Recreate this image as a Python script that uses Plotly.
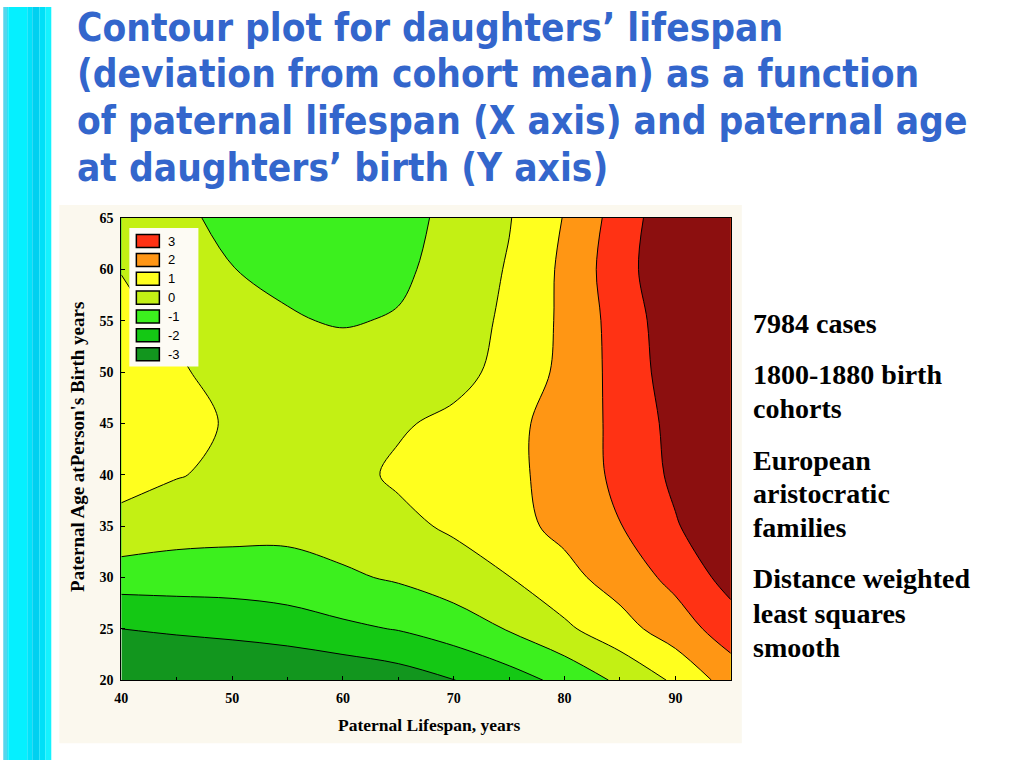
import plotly.graph_objects as go

# ---------------- data ----------------
paternal_lifespan = [40, 45, 50, 55, 60, 65, 70, 75, 80, 85, 90, 95]          # x grid
paternal_age = [20, 25, 30, 35, 40, 45, 50, 55, 60, 65]                      # y grid
# daughters' lifespan deviation (rows = paternal_age, cols = paternal_lifespan)
dev_age20 = [-4.4, -4.25, -4.1, -4.0, -3.8, -3.5, -3.02, -2.42, -1.73, -0.81, 0.16, 1.45]
dev_age25 = [-3.0, -2.83, -2.7, -2.5, -2.2, -1.95, -1.5, -0.93, -0.18, 0.62, 1.52, 2.5]
dev_age30 = [-1.51, -1.52, -1.52, -1.42, -1.15, -0.88, -0.5, -0.02, 0.7, 1.44, 2.27, 3.38]
dev_age35 = [-0.25, -0.56, -0.65, -0.72, -0.55, -0.25, 0.15, 0.68, 1.26, 1.97, 2.92, 3.8]
dev_age40 = [0.3, 0.05, -0.2, -0.4, -0.3, 0.15, 0.45, 0.75, 1.41, 2.22, 3.2, 4.1]
dev_age45 = [0.45, 0.3, -0.1, -0.4, -0.35, -0.1, 0.2, 0.75, 1.39, 2.27, 3.3, 4.2]
dev_age50 = [0.4, 0.14, -0.4, -0.55, -0.5, -0.45, -0.3, 0.3, 1.25, 2.35, 3.5, 4.4]
dev_age55 = [0.25, -0.2, -0.7, -0.92, -1.08, -0.92, -0.45, 0.18, 1.2, 2.42, 3.6, 4.5]
dev_age60 = [-0.03, -0.55, -0.98, -1.2, -1.35, -1.2, -0.6, 0.08, 1.2, 2.6, 3.8, 4.7]
dev_age65 = [-0.25, -0.75, -1.3, -1.6, -1.7, -1.45, -0.65, -0.05, 1.05, 2.45, 3.75, 4.7]

contour_start, contour_end, contour_step = -3, 3, 1
# band colours from lowest (< -3) to highest (> 3)
band_colors = ['#12961e', '#14c814', '#3cf01e', '#c3f014', '#ffff1e', '#ff9614', '#ff3214', '#8c0f0f']
legend_labels = ['3', '2', '1', '0', '-1', '-2', '-3']

x_ticks = [40, 50, 60, 70, 80, 90]
y_ticks = [20, 25, 30, 35, 40, 45, 50, 55, 60, 65]

title_lines = [
    "Contour plot for daughters\u2019 lifespan",
    "(deviation from cohort mean) as a function",
    "of paternal lifespan (X axis) and paternal age",
    "at daughters\u2019 birth (Y axis)",
]
side_lines = [
    "7984 cases",
    "1800-1880 birth", "cohorts",
    "European", "aristocratic", "families",
    "Distance weighted", "least squares", "smooth",
]
x_title = "Paternal Lifespan, years"
y_title = "Paternal Age atPerson's Birth years"

# ---------------- figure ----------------
W, H = 1024, 768
# map target picture pixels to paper coordinates (compensating the capture's framing)
SX, OX, SY, OY = 0.9924, 7.75, 0.978, 7.5
def fx(px):
    return ((px - OX) / SX) / W
def fy(py):
    return 1 - ((py - OY) / SY) / H

z = [dev_age20, dev_age25, dev_age30, dev_age35, dev_age40,
     dev_age45, dev_age50, dev_age55, dev_age60, dev_age65]
n_bands = len(band_colors)
colorscale = [[i / (n_bands - 1), c] for i, c in enumerate(band_colors)]

fig = go.Figure()
fig.add_trace(go.Contour(
    x=paternal_lifespan, y=paternal_age, z=z,
    colorscale=colorscale,
    contours=dict(start=contour_start, end=contour_end, size=contour_step, coloring='fill'),
    line=dict(color='black', width=1, smoothing=1.0),
    showscale=False, hoverinfo='skip',
))

shapes = []
# cyan gradient bar on the left
bar = [(0, 4, '#55d6ec'), (4, 9, '#2ae4f6'), (9, 28, '#05f0ff'), (28, 33, '#00e2fa'),
       (33, 40, '#00d0f0'), (40, 46, '#00e0f8'), (46, 52, '#14f2ff')]
for a, b, c in bar:
    shapes.append(dict(type='rect', xref='paper', yref='paper', x0=max(fx(a), 0), x1=fx(b), y0=0, y1=1,
                       fillcolor=c, line=dict(width=0), layer='below'))
# cream panel behind the plot
shapes.append(dict(type='rect', xref='paper', yref='paper', x0=fx(60), x1=fx(742), y0=fy(742), y1=fy(205),
                   fillcolor='#fbf8ee', line=dict(width=0), layer='below'))
# legend box
shapes.append(dict(type='rect', xref='paper', yref='paper', x0=fx(130), x1=fx(199), y0=fy(366), y1=fy(228),
                   fillcolor='#fdfbf4', line=dict(width=0), layer='above'))
annotations = []
leg_colors = band_colors[:len(legend_labels)][::-1]
for i, (lab, col) in enumerate(zip(legend_labels, leg_colors)):
    cy = 241 + i * 18.8
    shapes.append(dict(type='rect', xref='paper', yref='paper', x0=fx(137), x1=fx(160),
                       y0=fy(cy + 6.5), y1=fy(cy - 6.5), fillcolor=col,
                       line=dict(color='black', width=1.5), layer='above'))
    annotations.append(dict(text=lab, xref='paper', yref='paper', x=fx(167), y=fy(cy),
                            xanchor='left', yanchor='middle', showarrow=False,
                            font=dict(family='Liberation Sans, Arial', size=13, color='black')))

# title lines
title_y = [28, 74, 121, 168]
for t, yy in zip(title_lines, title_y):
    annotations.append(dict(text=t, xref='paper', yref='paper', x=fx(76), y=fy(yy),
                            xanchor='left', yanchor='middle', showarrow=False,
                            font=dict(family='DejaVu Sans Condensed, DejaVu Sans', size=38.5,
                                      color='#3366cc', weight='bold')))
# side text
side_y = [323, 374, 408, 460, 493, 527, 578, 612, 646]
for t, yy in zip(side_lines, side_y):
    annotations.append(dict(text=t, xref='paper', yref='paper', x=fx(751), y=fy(yy),
                            xanchor='left', yanchor='middle', showarrow=False,
                            font=dict(family='Liberation Serif, Times New Roman', size=28,
                                      color='black', weight='bold')))
# axis titles
annotations.append(dict(text=x_title, xref='paper', yref='paper', x=fx(429), y=fy(724),
                        xanchor='center', yanchor='middle', showarrow=False,
                        font=dict(family='Liberation Serif, Times New Roman', size=17.5,
                                  color='black', weight='bold')))
annotations.append(dict(text=y_title, xref='paper', yref='paper', x=fx(78), y=fy(446),
                        xanchor='center', yanchor='middle', showarrow=False, textangle=-90,
                        font=dict(family='Liberation Serif, Times New Roman', size=19,
                                  color='black', weight='bold')))

tickfont = dict(family='Liberation Serif, Times New Roman', size=14, color='black', weight='bold')
fig.update_layout(
    width=W, height=H, margin=dict(l=0, r=0, t=0, b=0),
    paper_bgcolor='white', plot_bgcolor='#fbf8ee',
    showlegend=False, shapes=shapes, annotations=annotations,
    xaxis=dict(domain=[fx(122), fx(731)], range=[40, 95], tickvals=x_ticks,
               ticks='inside', ticklen=4, tickcolor='black',
               minor=dict(dtick=5, ticks='inside', ticklen=3, tickcolor='black'),
               showline=True, linecolor='black', linewidth=1, mirror=True,
               showgrid=False, zeroline=False, tickfont=tickfont, ticklabelstandoff=5),
    yaxis=dict(domain=[fy(679), fy(218)], range=[20, 65], tickvals=y_ticks,
               ticks='inside', ticklen=4, tickcolor='black',
               showline=True, linecolor='black', linewidth=1, mirror=True,
               showgrid=False, zeroline=False, tickfont=tickfont, ticklabelstandoff=4),
)

fig.write_html("out.html", config={'displayModeBar': False},
               post_script="document.body.style.margin='0';document.body.style.overflow='hidden';")
